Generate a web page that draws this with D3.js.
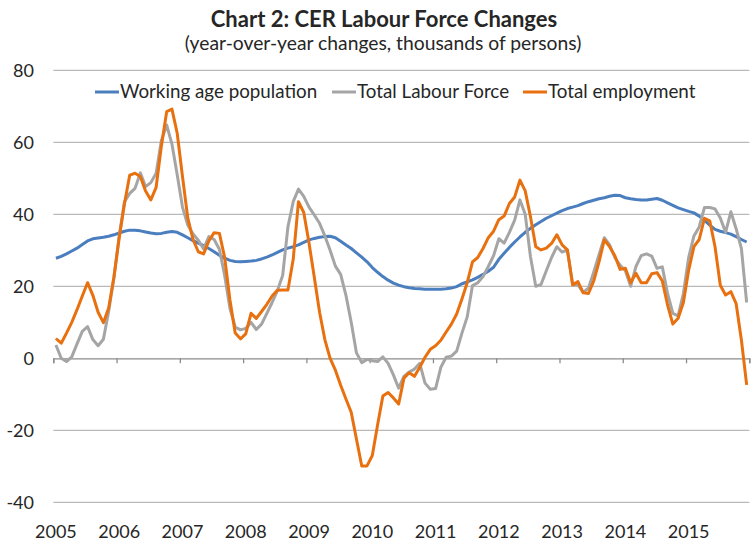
<!DOCTYPE html>
<html>
<head>
<meta charset="utf-8">
<script src="https://cdn.jsdelivr.net/npm/d3@7"></script>
<style>
  body { margin: 0; background: #fff; }
  text { font-family: Lato, "Open Sans", sans-serif; fill: #262626; }
</style>
</head>
<body>
<div id="container"></div>
<script>
let w = 753;
let h = 543;

// monthly data, Jan 2005 - Dec 2015
let years = ["2005","2006","2007","2008","2009","2010","2011","2012","2013","2014","2015"];
let yTicks = [-40, -20, 0, 20, 40, 60, 80];

let workingAge = [
  27.8, 28.3, 29.0, 29.8, 30.6, 31.6, 32.6, 33.2, 33.4, 33.6, 33.9, 34.3,
  34.8, 35.3, 35.6, 35.6, 35.4, 35.1, 34.8, 34.6, 34.7, 35.0, 35.2, 35.0,
  34.3, 33.5, 32.7, 32.0, 31.3, 30.5, 29.6, 28.6, 27.8, 27.2, 26.9, 26.8,
  26.9, 27.0, 27.2, 27.6, 28.1, 28.7, 29.4, 30.1, 30.6, 31.0, 31.5, 32.2,
  32.9, 33.3, 33.6, 33.8, 33.9, 33.5, 32.5, 31.5, 30.5, 29.3, 28.1, 26.8,
  25.2, 23.9, 22.7, 21.7, 20.9, 20.3, 19.9, 19.6, 19.4, 19.3, 19.2, 19.2,
  19.2, 19.2, 19.3, 19.5, 19.9, 20.7, 21.2, 21.8, 22.5, 23.3, 24.2, 25.3,
  27.5, 29.2, 30.8, 32.3, 33.7, 35.0, 36.1, 37.1, 38.0, 38.9, 39.6, 40.3,
  41.0, 41.6, 42.0, 42.4, 43.0, 43.5, 43.9, 44.3, 44.6, 45.0, 45.3, 45.2,
  44.6, 44.3, 44.1, 44.0, 44.0, 44.2, 44.4, 43.9, 43.2, 42.5, 41.8, 41.3,
  40.8, 40.4, 39.5, 38.3, 37.0, 35.8, 35.3, 34.9, 34.5, 33.8, 33.0, 32.3
];

let labourForce = [
  3.7, 0.0, -0.9, 0.4, 4.0, 7.5, 8.8, 5.2, 3.5, 5.3, 13.0, 22.5,
  34.0, 43.5, 45.8, 47.2, 51.5, 47.7, 48.8, 51.4, 60.5, 64.8, 59.5, 51.0,
  42.0, 37.0, 34.5, 32.8, 30.4, 33.8, 33.0, 30.3, 23.0, 13.9, 8.7, 7.9,
  8.3, 10.0, 8.0, 9.5, 12.5, 15.5, 18.8, 23.0, 36.5, 43.5, 47.0, 45.0,
  42.0, 39.8, 37.5, 34.0, 30.0, 25.6, 23.3, 17.5, 10.0, 1.5, -1.2, -0.3,
  -0.7, -0.9, 0.4, -1.4, -4.6, -8.3, -5.0, -3.8, -3.0, -1.4, -6.9, -8.6,
  -8.4, -2.5, 0.3, 0.6, 2.0, 7.0, 11.5, 20.2, 21.0, 22.7, 25.5, 28.5,
  33.2, 32.0, 35.0, 38.4, 44.0, 40.0, 28.2, 20.0, 20.5, 24.3, 28.0, 31.0,
  29.5, 30.1, 20.4, 20.4, 18.3, 19.5, 24.0, 28.8, 33.5, 31.5, 28.0, 25.8,
  24.3, 20.0, 25.5, 28.5, 29.0, 28.4, 25.0, 25.4, 18.0, 12.5, 11.8, 18.0,
  28.0, 34.0, 36.5, 41.9, 41.9, 41.5, 39.0, 35.0, 40.7, 36.0, 30.5, 15.5
];

let employment = [
  5.5, 4.2, 7.0, 10.0, 13.5, 17.3, 21.0, 17.5, 12.8, 9.9, 14.0, 22.5,
  33.5, 43.0, 50.9, 51.4, 50.5, 46.5, 44.0, 47.5, 59.0, 68.5, 69.2, 62.5,
  50.5, 39.0, 33.0, 29.6, 29.0, 32.6, 34.9, 34.7, 28.0, 16.2, 7.0, 5.4,
  6.8, 12.5, 11.1, 13.0, 15.0, 17.3, 18.9, 19.0, 19.0, 27.5, 43.5, 40.5,
  32.0, 22.5, 12.8, 5.2, 0.0, -3.3, -7.5, -11.3, -15.0, -22.5, -29.9, -29.9,
  -27.0, -18.5, -10.5, -9.5, -11.0, -12.7, -5.5, -4.0, -5.0, -2.5, 0.3, 2.5,
  3.5, 5.0, 7.3, 9.5, 12.3, 16.5, 21.0, 26.8, 28.0, 30.5, 33.5, 35.3,
  38.5, 39.5, 43.0, 44.8, 49.5, 46.5, 39.3, 31.0, 30.1, 30.6, 31.9, 34.3,
  31.5, 30.1, 20.4, 21.3, 18.2, 18.0, 21.5, 26.8, 32.9, 31.0, 28.5, 24.7,
  25.0, 21.0, 23.6, 21.0, 21.0, 23.5, 23.8, 21.5, 14.8, 9.5, 11.1, 15.5,
  24.5, 31.0, 33.0, 38.9, 38.2, 31.0, 20.3, 17.6, 18.5, 15.2, 5.1, -7.4
];

let seriesNames = ["Working age population", "Total Labour Force", "Total employment"];
let seriesColors = ["#4a7ebf", "#a5a5a5", "#e8700f"];
let seriesData = [workingAge, labourForce, employment];

let viz = d3.select("#container")
  .append("svg")
    .attr("width", w)
    .attr("height", h)
    .style("background-color", "white")
;

let xScale = d3.scaleLinear().domain([0, 132]).range([53.3, 749.3]);
let yScale = d3.scaleLinear().domain([-40, 80]).range([502.3, 70.3]);

// gridlines
viz.append("g").attr("class", "grid")
  .selectAll("line").data(yTicks.filter(function(d) { return d != 0; })).enter()
  .append("line")
    .attr("x1", xScale(0))
    .attr("x2", xScale(132))
    .attr("y1", function(d) { return yScale(d); })
    .attr("y2", function(d) { return yScale(d); })
    .attr("stroke", "#b9b9b9")
    .attr("stroke-width", 1.3)
;

// y axis labels (plain hyphen minus like the original)
let yAxis = d3.axisLeft(yScale).tickValues(yTicks).tickSize(0).tickPadding(0)
  .tickFormat(function(d) { return String(d); });
let yAxisGroup = viz.append("g").attr("class", "yaxis")
  .attr("transform", "translate(34,0)")
  .call(yAxis);
yAxisGroup.select(".domain").remove();
yAxisGroup.selectAll("text")
  .attr("font-size", 18)
  .attr("font-family", "Lato, sans-serif")
  .attr("fill", "#262626");

// x axis on the zero line
let yearTicks = d3.range(0, 133, 12);
let xAxis = d3.axisBottom(xScale).tickValues(yearTicks).tickSize(5).tickFormat("");
let xAxisGroup = viz.append("g").attr("class", "xaxis")
  .attr("transform", "translate(0," + yScale(0) + ")")
  .call(xAxis);
xAxisGroup.select(".domain").attr("stroke", "#8c8c8c").attr("stroke-width", 1.3);
xAxisGroup.selectAll(".tick line").attr("stroke", "#8c8c8c").attr("stroke-width", 1.3);

// year labels along the bottom
viz.append("g").attr("class", "yearLabels")
  .selectAll("text").data(years).enter()
  .append("text")
    .attr("x", function(d, i) { return xScale(i * 12 + 0.5); })
    .attr("y", 538)
    .attr("text-anchor", "middle")
    .attr("font-size", 18)
    .text(function(d) { return d; })
;

// lines
let line = d3.line()
  .x(function(d, i) { return xScale(i + 0.5); })
  .y(function(d) { return yScale(d); });

viz.append("g").attr("class", "lines")
  .selectAll("path").data(seriesData).enter()
  .append("path")
    .attr("d", line)
    .attr("fill", "none")
    .attr("stroke", function(d, i) { return seriesColors[i]; })
    .attr("stroke-width", 3)
    .attr("stroke-linejoin", "round")
;

// legend
let legendX = [95, 332, 523];
let legend = viz.append("g").attr("class", "legend")
  .selectAll("g").data(seriesNames).enter()
  .append("g")
    .attr("transform", function(d, i) { return "translate(" + legendX[i] + ",92)"; })
;
legend.append("line")
  .attr("x1", 0).attr("x2", 24)
  .attr("y1", 0).attr("y2", 0)
  .attr("stroke", function(d, i) { return seriesColors[i]; })
  .attr("stroke-width", 3);
legend.append("text")
  .attr("x", 25)
  .attr("y", 6)
  .attr("font-size", 18.8)
  .text(function(d) { return d; });

// titles
viz.append("text")
  .attr("x", 384).attr("y", 27)
  .attr("text-anchor", "middle")
  .attr("font-size", 22)
  .attr("font-weight", "bold")
  .text("Chart 2: CER Labour Force Changes");
viz.append("text")
  .attr("x", 383).attr("y", 50)
  .attr("text-anchor", "middle")
  .attr("font-size", 19.3)
  .text("(year-over-year changes, thousands of persons)");
</script>
</body>
</html>
